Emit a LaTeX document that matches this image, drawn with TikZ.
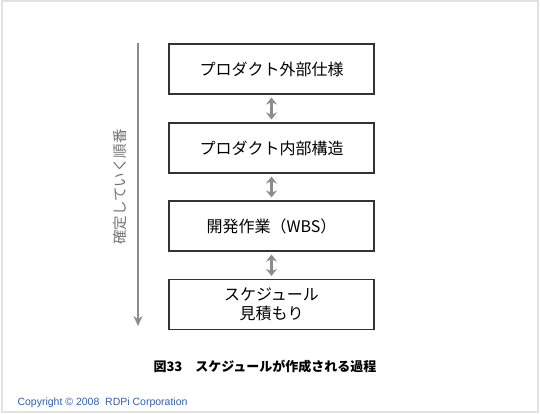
\documentclass[tikz,border=0pt]{standalone}
\usepackage{fontspec}
\newfontfamily\jpfont{Noto Sans CJK JP}
\newfontfamily\copyfont{Liberation Sans}
\usepackage{tikz}
\usetikzlibrary{arrows.meta}
\definecolor{framegray}{HTML}{E2E2E2}
\definecolor{linkgray}{HTML}{8C8C8C}
\definecolor{copyblue}{HTML}{2F5FB0}
\tikzset{
  procbox/.style={draw=black!80, line width=1.1pt, minimum width=205pt, minimum height=50pt, align=center, inner sep=0pt, font=\jpfont\fontsize{16}{19.5}\selectfont},
  linkarrow/.style={linkgray, line width=3.2pt, {Stealth[length=7pt,width=11pt]}-{Stealth[length=7pt,width=11pt]}},
  orderarrow/.style={linkgray, line width=1.6pt, -{Stealth[length=10pt,width=9pt]}}
}

\begin{document}
\begin{tikzpicture}[x=1pt, y=-1pt]
		\useasboundingbox (0,0) rectangle (540,414);
		\draw[framegray, line width=2pt] (1.5,1.5) rectangle (538,412);
		% 工程
		\node[procbox] (ext) at (271.5,69) {プロダクト外部仕様};
		\node[procbox] (int) at (271.5,148) {プロダクト内部構造};
		\node[procbox] (wbs) at (271.5,226) {開発作業（WBS）};
		\node[procbox] (sched) at (271.5,304.5) {スケジュール\\見積もり};
		\foreach \a/\b in {ext/int, int/wbs, wbs/sched}
			\draw[linkarrow] ([yshift=-3pt]\a.south) -- ([yshift=3pt]\b.north);
		% 確定順
		\coordinate (top) at (138,43);
		\coordinate (bottom) at (138,326);
		\draw[orderarrow] (top) -- (bottom);
		\node[rotate=90, text=black!55, font=\jpfont\fontsize{14.5}{16}\selectfont] (order) at (120,187) {確定していく順番};
		% 図題
		\node[font=\jpfont\bfseries\fontsize{13}{15}\selectfont] (caption) at (265,367) {図33　スケジュールが作成される過程};
		\node[anchor=west, text=copyblue, font=\copyfont\fontsize{10.5}{12}\selectfont] (copy) at (14,403) {Copyright © 2008~~RDPi Corporation};
	\end{tikzpicture}
\end{document}
